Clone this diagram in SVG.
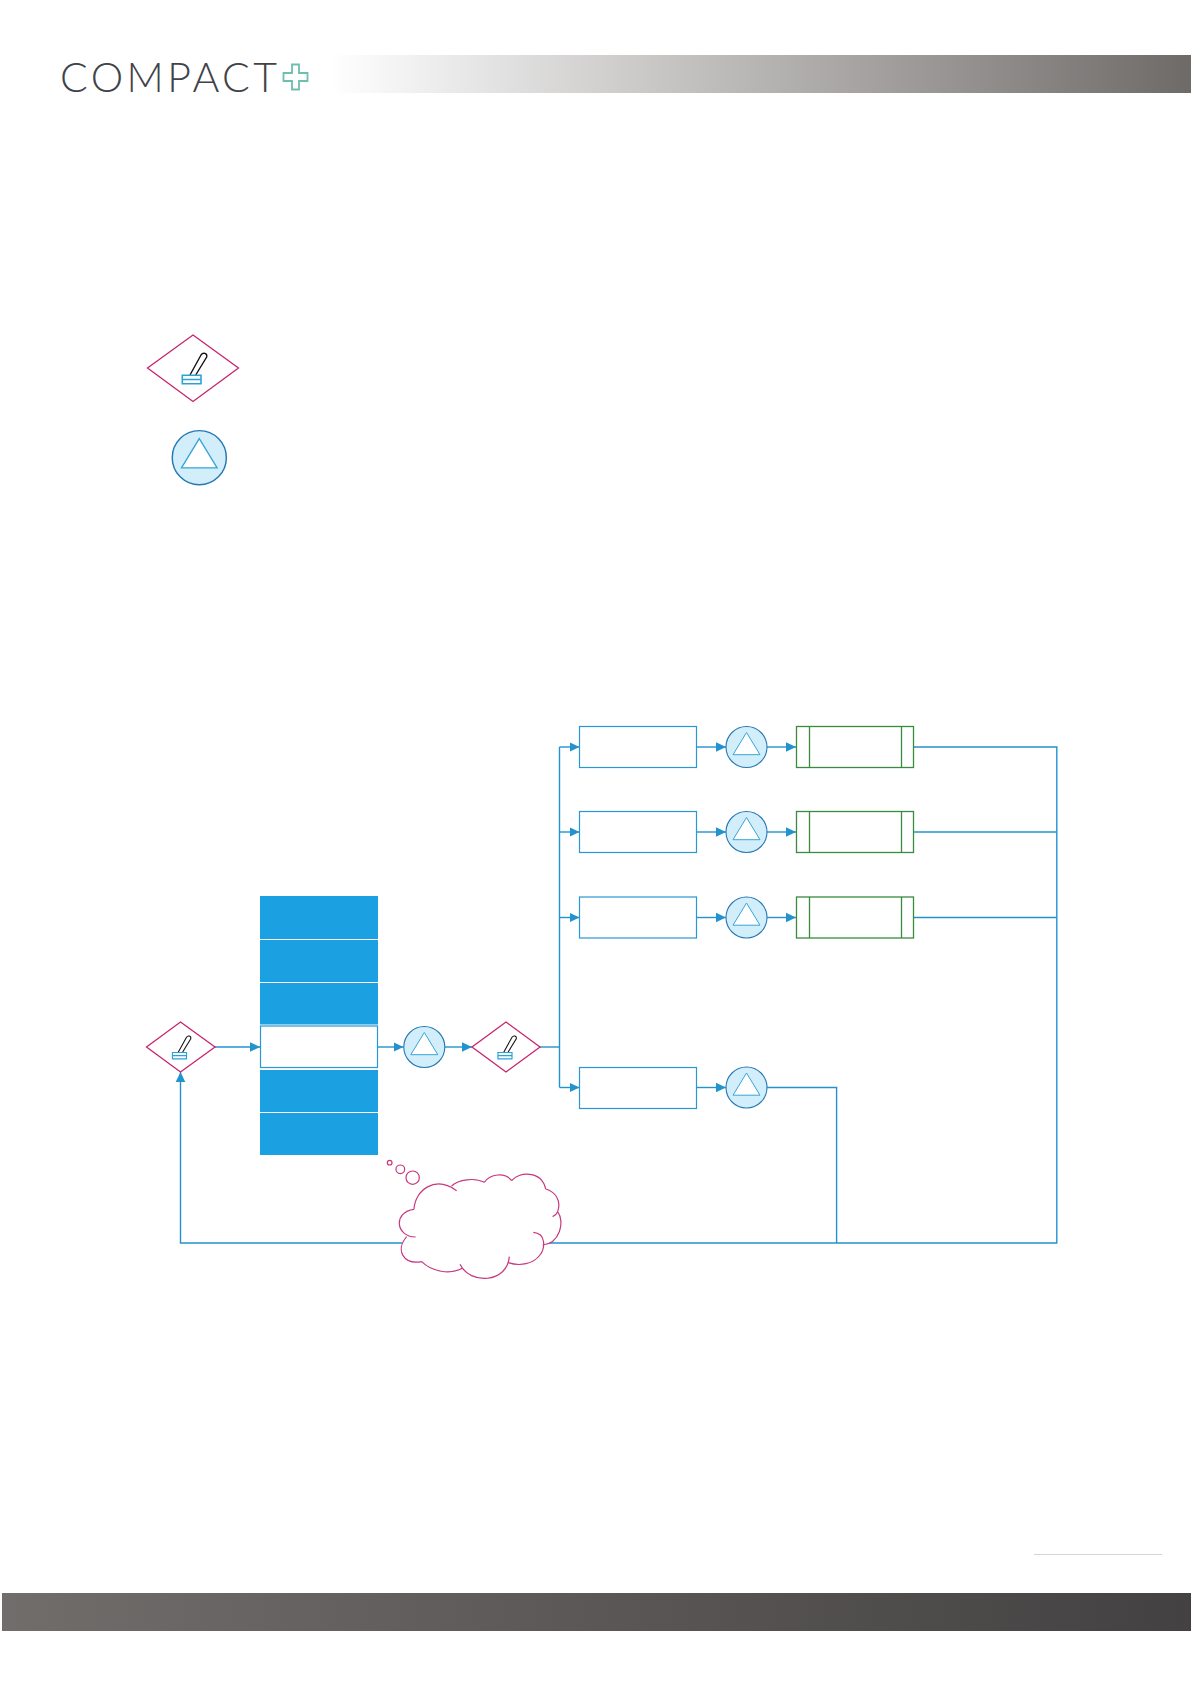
<svg xmlns="http://www.w3.org/2000/svg" width="1191" height="1684" viewBox="0 0 1191 1684">
<style>
.c{fill:none;stroke:#2393cf;stroke-width:1.4}
.proc{fill:#fff;stroke:#2a96d2;stroke-width:1.2}
.green{fill:#fff;stroke:#3b8a3e;stroke-width:1.3}
.blue{fill:#1ba1e2;stroke:none}
.dia{fill:#fff;stroke:#c8246c;stroke-width:1.3}
.pump{fill:#d3eefb;stroke:#2479b5;stroke-width:1.1}
.tri{fill:#fff;stroke:#35a5d8;stroke-width:1}
.cl{fill:none;stroke:#c8387f;stroke-width:3.6}
</style>
<defs>
<linearGradient id="hg" x1="0" x2="1" y1="0" y2="0"><stop offset="0" stop-color="#fff"/><stop offset="1" stop-color="#6e6a68"/></linearGradient>
<linearGradient id="fg" x1="0" x2="1" y1="0" y2="0"><stop offset="0" stop-color="#716d6b"/><stop offset="1" stop-color="#444142"/></linearGradient>
<marker id="a" markerUnits="userSpaceOnUse" markerWidth="12" markerHeight="12" refX="10" refY="6" orient="auto"><path d="M0,1.2L10,6L0,10.8z" fill="#2393cf"/></marker>
<g id="lever">
<path d="M-3,7L8,-13C10,-16 14.5,-15 13.7,-11L2.7,7" fill="#fff" stroke="#111" stroke-width="1.4"/>
<path d="M-10.7,7.3H8V15.7H-10.7zM-10.7,11.5H8" fill="#fff" stroke="#2ba3d6" stroke-width="1.6"/>
</g>
<g id="pump">
<circle r="20.5" class="pump"/>
<path d="M0,-14.5L13.5,7.7H-13.5z" class="tri"/>
</g>
</defs>
<g id="header">
<rect x="330" y="55" width="861" height="38" fill="url(#hg)"/>
<text x="60" y="91.5" font-family="Lato,'Liberation Sans',sans-serif" font-weight="300" font-size="41" fill="#3f4349" textLength="217" lengthAdjust="spacing">COMPACT</text>
<path d="M292,64.5H299V73H307.5V81H299V89.5H292V81H283.5V73H292z" fill="#fff" stroke="#6dbfb0" stroke-width="1.8"/>
</g>
<g id="legend-valve"><path d="M193,335L238.5,368L193,401.5L147.5,368z" class="dia"/><use href="#lever" transform="translate(193,368)"/></g>
<g id="legend-pump"><use href="#pump" transform="translate(199.3,457.7) scale(1.32)"/></g>
<g id="connectors">
<path class="c" d="M215,1047H260" marker-end="url(#a)"/>
<path class="c" d="M378,1047H403.5" marker-end="url(#a)"/>
<path class="c" d="M444.5,1047H472" marker-end="url(#a)"/>
<path class="c" d="M540,1047H559.5"/>
<path class="c" d="M559.5,747V1087.5"/>
<path class="c" d="M559.5,747H579.5" marker-end="url(#a)"/>
<path class="c" d="M559.5,832H579.5" marker-end="url(#a)"/>
<path class="c" d="M559.5,917.5H579.5" marker-end="url(#a)"/>
<path class="c" d="M559.5,1087.5H579.5" marker-end="url(#a)"/>
<path class="c" d="M696.5,747H726" marker-end="url(#a)"/>
<path class="c" d="M696.5,832H726" marker-end="url(#a)"/>
<path class="c" d="M696.5,917.5H726" marker-end="url(#a)"/>
<path class="c" d="M696.5,1087.5H726" marker-end="url(#a)"/>
<path class="c" d="M767,747H796" marker-end="url(#a)"/>
<path class="c" d="M767,832H796" marker-end="url(#a)"/>
<path class="c" d="M767,917.5H796" marker-end="url(#a)"/>
<path class="c" d="M914,747H1056.8V1243H180.5V1072" marker-end="url(#a)"/>
<path class="c" d="M914,832H1056.8"/>
<path class="c" d="M914,917.5H1056.8"/>
<path class="c" d="M767,1087.5H836.6V1243"/>
</g>
<g id="stack">
<rect class="blue" x="260" y="896" width="118" height="43"/>
<rect class="blue" x="260" y="940" width="118" height="42"/>
<rect class="blue" x="260" y="983" width="118" height="41.5"/>
<rect x="260.5" y="1026" width="117" height="41.5" class="proc"/>
<rect class="blue" x="260" y="1070" width="118" height="42"/>
<rect class="blue" x="260" y="1113" width="118" height="42"/>
</g>
<g id="valve1"><path d="M180.5,1022L215,1047L180.5,1072L146.5,1047z" class="dia"/><use href="#lever" transform="translate(180.5,1047) scale(.75)"/></g>
<g id="pump0"><use href="#pump" transform="translate(424.3,1047)"/></g>
<g id="valve2"><path d="M506,1022L540,1047L506,1072L472,1047z" class="dia"/><use href="#lever" transform="translate(506,1047) scale(.75)"/></g>
<g id="p1"><rect x="579.5" y="726.5" width="117" height="41" class="proc"/></g>
<g id="p2"><rect x="579.5" y="811.5" width="117" height="41" class="proc"/></g>
<g id="p3"><rect x="579.5" y="897" width="117" height="41" class="proc"/></g>
<g id="p4"><rect x="579.5" y="1067.5" width="117" height="41" class="proc"/></g>
<g id="pump1"><use href="#pump" transform="translate(746.5,747)"/></g>
<g id="pump2"><use href="#pump" transform="translate(746.5,832)"/></g>
<g id="pump3"><use href="#pump" transform="translate(746.5,917.5)"/></g>
<g id="pump4"><use href="#pump" transform="translate(746.5,1087.5)"/></g>
<g id="g1"><rect x="796.5" y="726.5" width="117" height="41" class="green"/><path d="M809.5,726.5V767.5M901.5,726.5V767.5" class="green"/></g>
<g id="g2"><rect x="796.5" y="811.5" width="117" height="41" class="green"/><path d="M809.5,811.5V852.5M901.5,811.5V852.5" class="green"/></g>
<g id="g3"><rect x="796.5" y="897" width="117" height="41" class="green"/><path d="M809.5,897V938M901.5,897V938" class="green"/></g>
<g id="cloud" transform="translate(370,1150) scale(.3333)">
<path d="M132,178C135,120 195,75 245,108C265,88 315,82 343,97C360,72 405,65 425,92C445,65 515,60 527,117C555,125 575,150 563,185C585,215 570,280 518,285C520,320 470,355 415,338C412,400 300,405 270,343C240,375 185,365 155,335C100,345 75,300 110,260C75,260 70,185 132,178z" fill="#fff"/>
<path class="cl" d="M132,178C135,120 195,75 260,122M245,108C265,88 315,82 343,97M343,97C360,72 405,65 425,92M425,92C445,65 515,60 527,117M527,117C555,125 575,150 563,185C560,192 555,197 548,200M563,185C585,215 570,280 518,285M490,247C530,250 525,295 510,315C490,342 450,350 415,338M418,320C412,400 300,405 270,343M277,355C240,375 185,365 155,335M155,335C100,345 75,300 110,260M137,261C75,260 70,185 132,178"/>
<circle cx="59" cy="38" r="7" class="cl"/><circle cx="91" cy="58" r="13" class="cl"/><circle cx="128" cy="83" r="20" class="cl"/>
</g>
<g id="footer">
<path d="M1034,1554.5H1162" stroke="#d4d4d4" stroke-width="1" fill="none"/>
<rect x="2" y="1593" width="1189" height="38" fill="url(#fg)"/>
</g>
</svg>
